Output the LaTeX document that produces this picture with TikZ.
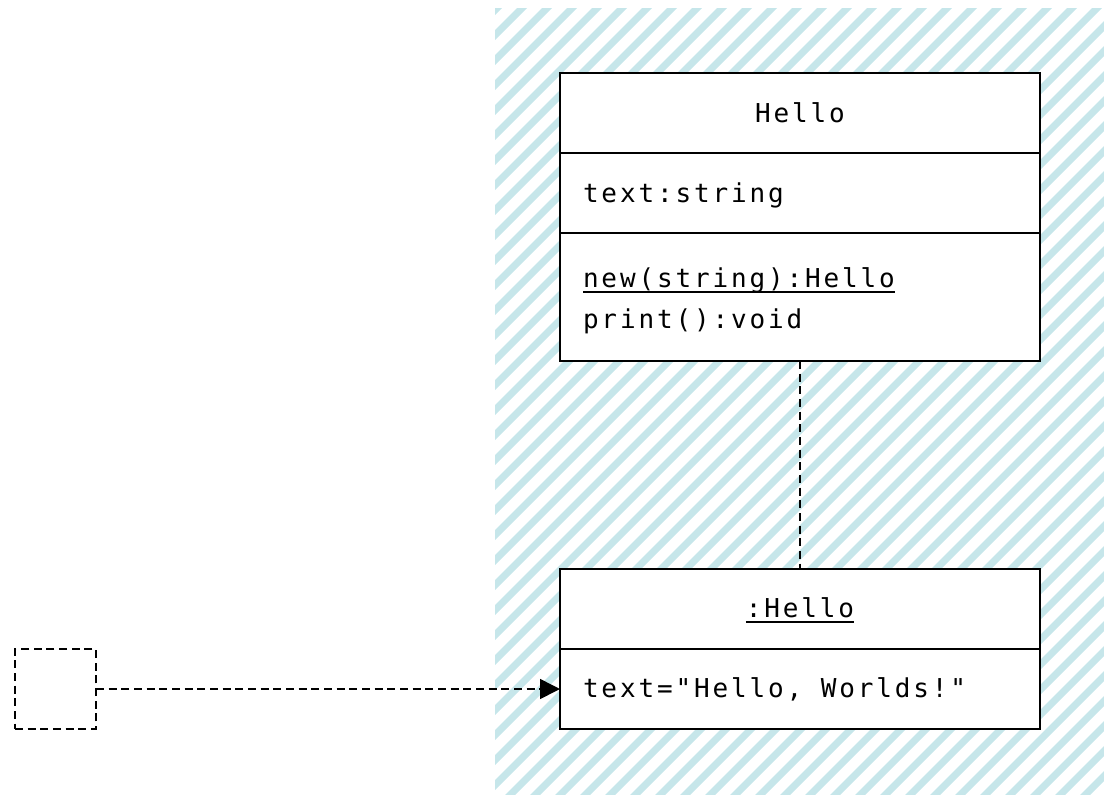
\documentclass[tikz,border=0pt]{standalone}
\usepackage{fontspec}
\usepackage{xcolor}
\usetikzlibrary{positioning, arrows.meta}
\newfontfamily\monof[LetterSpace=11, Ligatures=TeXOff]{DejaVu Sans Mono}
\definecolor{hatchblue}{HTML}{C6E6EA}
\newcommand{\ulin}[1]{\setbox0\hbox{#1}\rlap{\rule[-3.6pt]{\wd0}{1.2pt}}\box0}
\newcommand{\cellsp}{\hspace*{13.875pt}}
\tikzset{
  umlbox/.style={draw, fill=white, line width=1.5pt, outer sep=0pt, minimum width=360pt,
    inner xsep=17.25pt, inner ysep=0pt, font=\monof\fontsize{19.5}{30.75}\selectfont},
  leftpart/.style={text width=325.5pt, align=left},
  dashline/.style={line width=1.2pt, dash pattern=on 6pt off 3.5pt},
  hatch/.style={hatchblue, line width=5.3pt}
}

\begin{document}
\begin{tikzpicture}[x=0.75pt, y=-0.75pt]
\useasboundingbox (0,0) rectangle (1104,794);
% background
\begin{scope}
\clip (495,8) rectangle (1104,794);
\foreach \k in {20,...,76}
  \draw[hatch] ({25*\k-795},800) -- ({25*\k+5},0);
\end{scope}
% class
\node[umlbox, minimum height=60pt] (clsname) at (800,113) {Hello};
\node[umlbox, leftpart, minimum height=60pt, below=0pt of clsname] (clsattr) {\rule{0pt}{19pt}text:string};
\node[umlbox, leftpart, minimum height=96pt, below=0pt of clsattr] (clsops) {\rule{0pt}{21pt}\ulin{new(string):Hello}\\print():void};
% object
\node[umlbox, minimum height=60pt] (objname) at (800,609) {\rule{0pt}{17pt}\ulin{:Hello}};
\node[umlbox, leftpart, minimum height=60pt, below=0pt of objname] (objattr) {\rule{0pt}{16pt}text="Hello,\cellsp Worlds!"};
\draw[dashline] (clsops.south) -- (objname.north);
% actor
\node[dashline, draw, outer sep=0pt, minimum width=60.75pt, minimum height=60pt] (actor) at (55.5,689) {};
\draw[dashline, -{Triangle[length=15pt, width=15pt]}] (actor.east) -- (objattr.west);
\end{tikzpicture}
\end{document}
